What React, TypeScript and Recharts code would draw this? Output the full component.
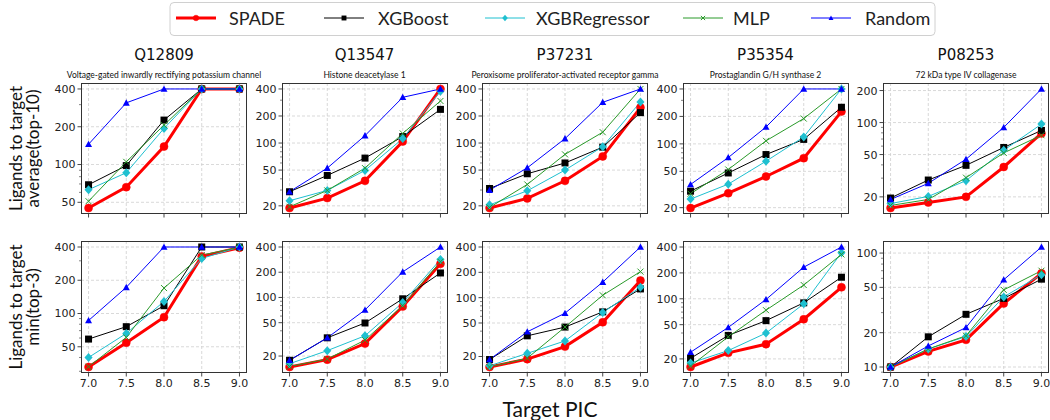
import React from "react";
import { LineChart, Line, XAxis, YAxis, CartesianGrid } from "recharts";

// ---------- data ----------
const pic = [7.0, 7.5, 8.0, 8.5, 9.0];
const methods = ["SPADE", "XGBoost", "XGBRegressor", "MLP", "Random"];
const targets = ["Q12809", "Q13547", "P37231", "P35354", "P08253"];
const targetNames = [
  "Voltage-gated inwardly rectifying potassium channel",
  "Histone deacetylase 1",
  "Peroxisome proliferator-activated receptor gamma",
  "Prostaglandin G/H synthase 2",
  "72 kDa type IV collagenase",
];

// rows follow `methods` order, columns follow `pic`
const avgQ12809 = [[45, 66, 139, 400, 400], [69, 98, 226, 400, 400], [63, 86, 194, 400, 400], [51, 105, 206, 400, 400], [145, 310, 400, 400, 400]];
const avgQ13547 = [[18.9, 24.4, 38, 104, 400], [28.7, 43.6, 68, 118, 237], [22.8, 29.7, 49.6, 112, 377], [19.5, 29.7, 52.6, 128, 294], [28.7, 52.6, 121, 323, 400]];
const avgP37231 = [[18.9, 24.2, 38, 71, 248], [31.2, 45.5, 60, 90, 218], [20.5, 29.4, 50, 91, 287], [19.2, 34.6, 74.8, 132, 400], [29.9, 53, 112, 284, 400]];
const avgP35354 = [[19.8, 28.8, 43.9, 69.7, 226], [30.3, 48, 76.4, 112, 252], [24.8, 36.2, 64.6, 119, 400], [28.4, 52.4, 108, 189.5, 400], [35.9, 70.8, 153, 400, 400]];
const avgP08253 = [[15.7, 17.7, 20, 38.2, 79], [19.5, 28.8, 39.6, 58.3, 84.3], [17.3, 20.2, 28.4, 54.9, 96.7], [16.6, 18.9, 30.3, 51.8, 76], [18.9, 26.8, 45.2, 90, 207]];

const minQ12809 = [[32.8, 54.4, 92.6, 329, 394], [58.7, 76, 117.6, 400, 400], [40, 66, 128.6, 315, 400], [33, 60.8, 170, 338, 397], [86.4, 172.6, 400, 400, 400]];
const minQ13547 = [[14.8, 18.1, 28.2, 78, 252], [17.8, 33, 49.6, 96.4, 196], [16.2, 23.2, 34.9, 87, 284], [15, 18.4, 31, 80, 267], [17.8, 33, 71, 202, 400]];
const minP37231 = [[15, 18.6, 26.2, 51, 160], [18.4, 35.2, 44.7, 67.8, 127], [15.5, 21.8, 30.6, 66.6, 133], [15, 19.1, 44.7, 106.7, 204], [18.4, 39.3, 65.4, 153, 400]];
const minP35354 = [[16.1, 23.5, 29.7, 57.8, 136], [20.3, 37.5, 55.7, 89.7, 178], [17.9, 25, 39.9, 87.4, 343], [16.5, 36.1, 73.7, 144.5, 328], [23.9, 46.5, 98.2, 233, 400]];
const minP08253 = [[10, 13.7, 17.3, 36.1, 66.4], [10, 18.4, 29, 40, 59], [10, 14.4, 18.5, 41.2, 64.6], [10, 14.4, 18.8, 47.5, 70], [10, 15.3, 22.2, 58.3, 113]];

const ticks50 = [50, 100, 200, 400];
const ticks20 = [20, 50, 100, 200, 400];
const ticks20to200 = [20, 50, 100, 200];
const ticks10 = [10, 20, 50, 100];

const rowAvg = [avgQ12809, avgQ13547, avgP37231, avgP35354, avgP08253];
const rowMin = [minQ12809, minQ13547, minP37231, minP35354, minP08253];
const rowAvgTicks = [ticks50, ticks20, ticks20, ticks20, ticks20to200];
const rowMinTicks = [ticks50, ticks20, ticks20, ticks20, ticks10];

// ---------- styles ----------
type Style = { color: string; width: number; shape: string; size: number };
const styles: Record<string, Style> = {
  SPADE: { color: "#ff0000", width: 3, shape: "circle", size: 8 },
  XGBoost: { color: "#000000", width: 1, shape: "square", size: 7 },
  XGBRegressor: { color: "#1fc0d0", width: 1, shape: "diamond", size: 9 },
  MLP: { color: "#2a9a2a", width: 1, shape: "x", size: 6 },
  Random: { color: "#0000ff", width: 1, shape: "triangle", size: 7 },
};

const TICK_FONT = "DejaVu Sans, sans-serif";
const TEXT_FONT = "Lato, sans-serif";

function Marker({ shape, cx, cy, size, color }: any) {
  const h = size / 2;
  switch (shape) {
    case "circle":
      return <circle cx={cx} cy={cy} r={h} fill={color} stroke={color} strokeWidth={0.5} />;
    case "square":
      return <rect x={cx - h} y={cy - h} width={size} height={size} fill={color} />;
    case "diamond":
      return <polygon points={`${cx},${cy - h} ${cx + h * 0.9},${cy} ${cx},${cy + h} ${cx - h * 0.9},${cy}`} fill={color} />;
    case "x":
      return (
        <g stroke={color} strokeWidth={1}>
          <line x1={cx - h} y1={cy - h} x2={cx + h} y2={cy + h} />
          <line x1={cx - h} y1={cy + h} x2={cx + h} y2={cy - h} />
        </g>
      );
    case "triangle":
      return <polygon points={`${cx},${cy - h} ${cx + h},${cy + h * 0.8} ${cx - h},${cy + h * 0.8}`} fill={color} />;
    default:
      return null;
  }
}

const makeDot = (st: Style) => (props: any) => {
  const { cx, cy, index } = props;
  if (cx == null || cy == null) return <g key={`d-${index}`} />;
  return (
    <g key={`d-${index}`}>
      <Marker shape={st.shape} cx={cx} cy={cy} size={st.size} color={st.color} />
    </g>
  );
};

function logDomain(series: number[][]): [number, number] {
  const all = series.flat();
  const lo = Math.min(...all);
  const hi = Math.max(...all);
  const m = Math.pow(hi / lo, 0.05);
  return [lo / m, hi * m];
}

function minorTicks(domain: [number, number], majors: number[]) {
  const out: number[] = [];
  for (let k = 0; k <= 3; k++) {
    for (let m = 1; m <= 9; m++) {
      const v = m * Math.pow(10, k);
      if (v >= domain[0] && v <= domain[1] && !majors.includes(v)) out.push(v);
    }
  }
  return out;
}

// ---------- layout ----------
const PLOT_W = 166;
const colLeft = (i: number) => 81 + i * 200.5;
const rowTop = [83, 241];
const rowH = [131, 132];
const YW = 40;
const MT = 6;
const MR = 6;

function Panel({ col, row, series, majors }: any) {
  const data = pic.map((x, j) => {
    const o: any = { x };
    methods.forEach((m, k) => (o[m] = series[k][j]));
    return o;
  });
  const domain = logDomain(series);
  const minors = minorTicks(domain, majors);
  const allTicks = [...majors, ...minors].sort((a, b) => a - b);
  const XH = row === 1 ? 22 : 6;
  const left = colLeft(col);
  const top = rowTop[row];
  const h = rowH[row];
  const renderYTick = (p: any) => {
    const { x, y, payload } = p;
    const isMajor = majors.includes(payload.value);
    return (
      <g>
        <line x1={x} x2={x - (isMajor ? 3.5 : 2)} y1={y} y2={y} stroke="#333" strokeWidth={isMajor ? 0.9 : 0.6} />
        {isMajor && (
          <text x={x - 5.5} y={y} dy="0.36em" textAnchor="end" fontSize={11} fill="#222" fontFamily={TICK_FONT}>
            {payload.value}
          </text>
        )}
      </g>
    );
  };
  return (
    <>
      <div style={{ position: "absolute", left: left - YW, top: top - MT }}>
        <LineChart
          width={PLOT_W + YW + MR}
          height={h + MT + XH}
          data={data}
          margin={{ top: MT, right: MR, left: 0, bottom: 0 }}
        >
          <CartesianGrid stroke="#cfcfcf" strokeDasharray="3 2" strokeWidth={0.8} horizontalValues={majors} verticalValues={pic} />
          <XAxis
            dataKey="x"
            type="number"
            domain={[6.9, 9.1]}
            ticks={pic}
            interval={0}
            height={XH}
            tickSize={3.5}
            tickMargin={2.5}
            axisLine={false}
            tickLine={{ stroke: "#333", strokeWidth: 0.9 }}
            tick={{ fontSize: 11, fill: "#222", fontFamily: TICK_FONT }}
            tickFormatter={(v: number) => (row === 1 ? v.toFixed(1) : "")}
          />
          <YAxis
            type="number"
            scale="log"
            domain={domain}
            allowDataOverflow
            ticks={allTicks}
            interval={0}
            width={YW}
            tickSize={0}
            tickMargin={0}
            tickLine={false}
            axisLine={false}
            tick={renderYTick}
          />
          {methods.map((m) => {
            const st = styles[m];
            return (
              <Line
                key={m}
                dataKey={m}
                stroke={st.color}
                strokeWidth={st.width}
                dot={makeDot(st)}
                activeDot={false}
                isAnimationActive={false}
                type="linear"
              />
            );
          })}
        </LineChart>
      </div>
      <div
        style={{
          position: "absolute",
          left,
          top,
          width: PLOT_W,
          height: h,
          border: "1px solid #333",
          boxSizing: "border-box",
          pointerEvents: "none",
        }}
      />
    </>
  );
}

const legendLayout = [
  { line: 176, text: 229 },
  { line: 324, text: 378 },
  { line: 485, text: 536 },
  { line: 683, text: 733 },
  { line: 811, text: 865 },
];

export default function App() {
  return (
    <div style={{ position: "absolute", left: 0, top: 0, width: 1050, height: 420, background: "#fff", overflow: "hidden" }}>
      {targets.map((t, i) => (
        <Panel key={`a${t}`} col={i} row={0} series={rowAvg[i]} majors={rowAvgTicks[i]} />
      ))}
      {targets.map((t, i) => (
        <Panel key={`m${t}`} col={i} row={1} series={rowMin[i]} majors={rowMinTicks[i]} />
      ))}
      <svg width={1050} height={420} style={{ position: "absolute", left: 0, top: 0, pointerEvents: "none" }}>
        {/* legend */}
        <rect x={170} y={2.5} width={765} height={33} rx={4} fill="#fff" stroke="#d0d0d0" />
        {methods.map((m, i) => {
          const st = styles[m];
          const lx = legendLayout[i].line;
          return (
            <g key={m}>
              <line x1={lx} x2={lx + 40} y1={18} y2={18} stroke={st.color} strokeWidth={st.width} />
              <Marker shape={st.shape} cx={lx + 20} cy={18} size={st.size * 0.7} color={st.color} />
              <text x={legendLayout[i].text} y={25} fontSize={18} fontFamily={TEXT_FONT} fill="#222">
                {m}
              </text>
            </g>
          );
        })}
        {/* titles */}
        {targets.map((t, i) => (
          <g key={t}>
            <text x={colLeft(i) + PLOT_W / 2} y={60} textAnchor="middle" fontSize={15} fontFamily={TICK_FONT} fill="#111">
              {t}
            </text>
            <text x={colLeft(i) + PLOT_W / 2} y={78} textAnchor="middle" fontSize={8.5} fontFamily={TEXT_FONT} fill="#111">
              {targetNames[i]}
            </text>
          </g>
        ))}
        {/* y labels */}
        <g transform="translate(0,148.5)">
          <text transform="translate(22,0) rotate(-90)" textAnchor="middle" fontSize={17} fontFamily={TEXT_FONT} fill="#111">Ligands to target</text>
          <text transform="translate(39,0) rotate(-90)" textAnchor="middle" fontSize={17} fontFamily={TEXT_FONT} fill="#111">average(top-10)</text>
        </g>
        <g transform="translate(0,307)">
          <text transform="translate(22,0) rotate(-90)" textAnchor="middle" fontSize={17} fontFamily={TEXT_FONT} fill="#111">Ligands to target</text>
          <text transform="translate(39,0) rotate(-90)" textAnchor="middle" fontSize={17} fontFamily={TEXT_FONT} fill="#111">min(top-3)</text>
        </g>
        <text x={550} y={417} textAnchor="middle" fontSize={21} fontFamily={TEXT_FONT} fill="#111">Target PIC</text>
      </svg>
    </div>
  );
}
